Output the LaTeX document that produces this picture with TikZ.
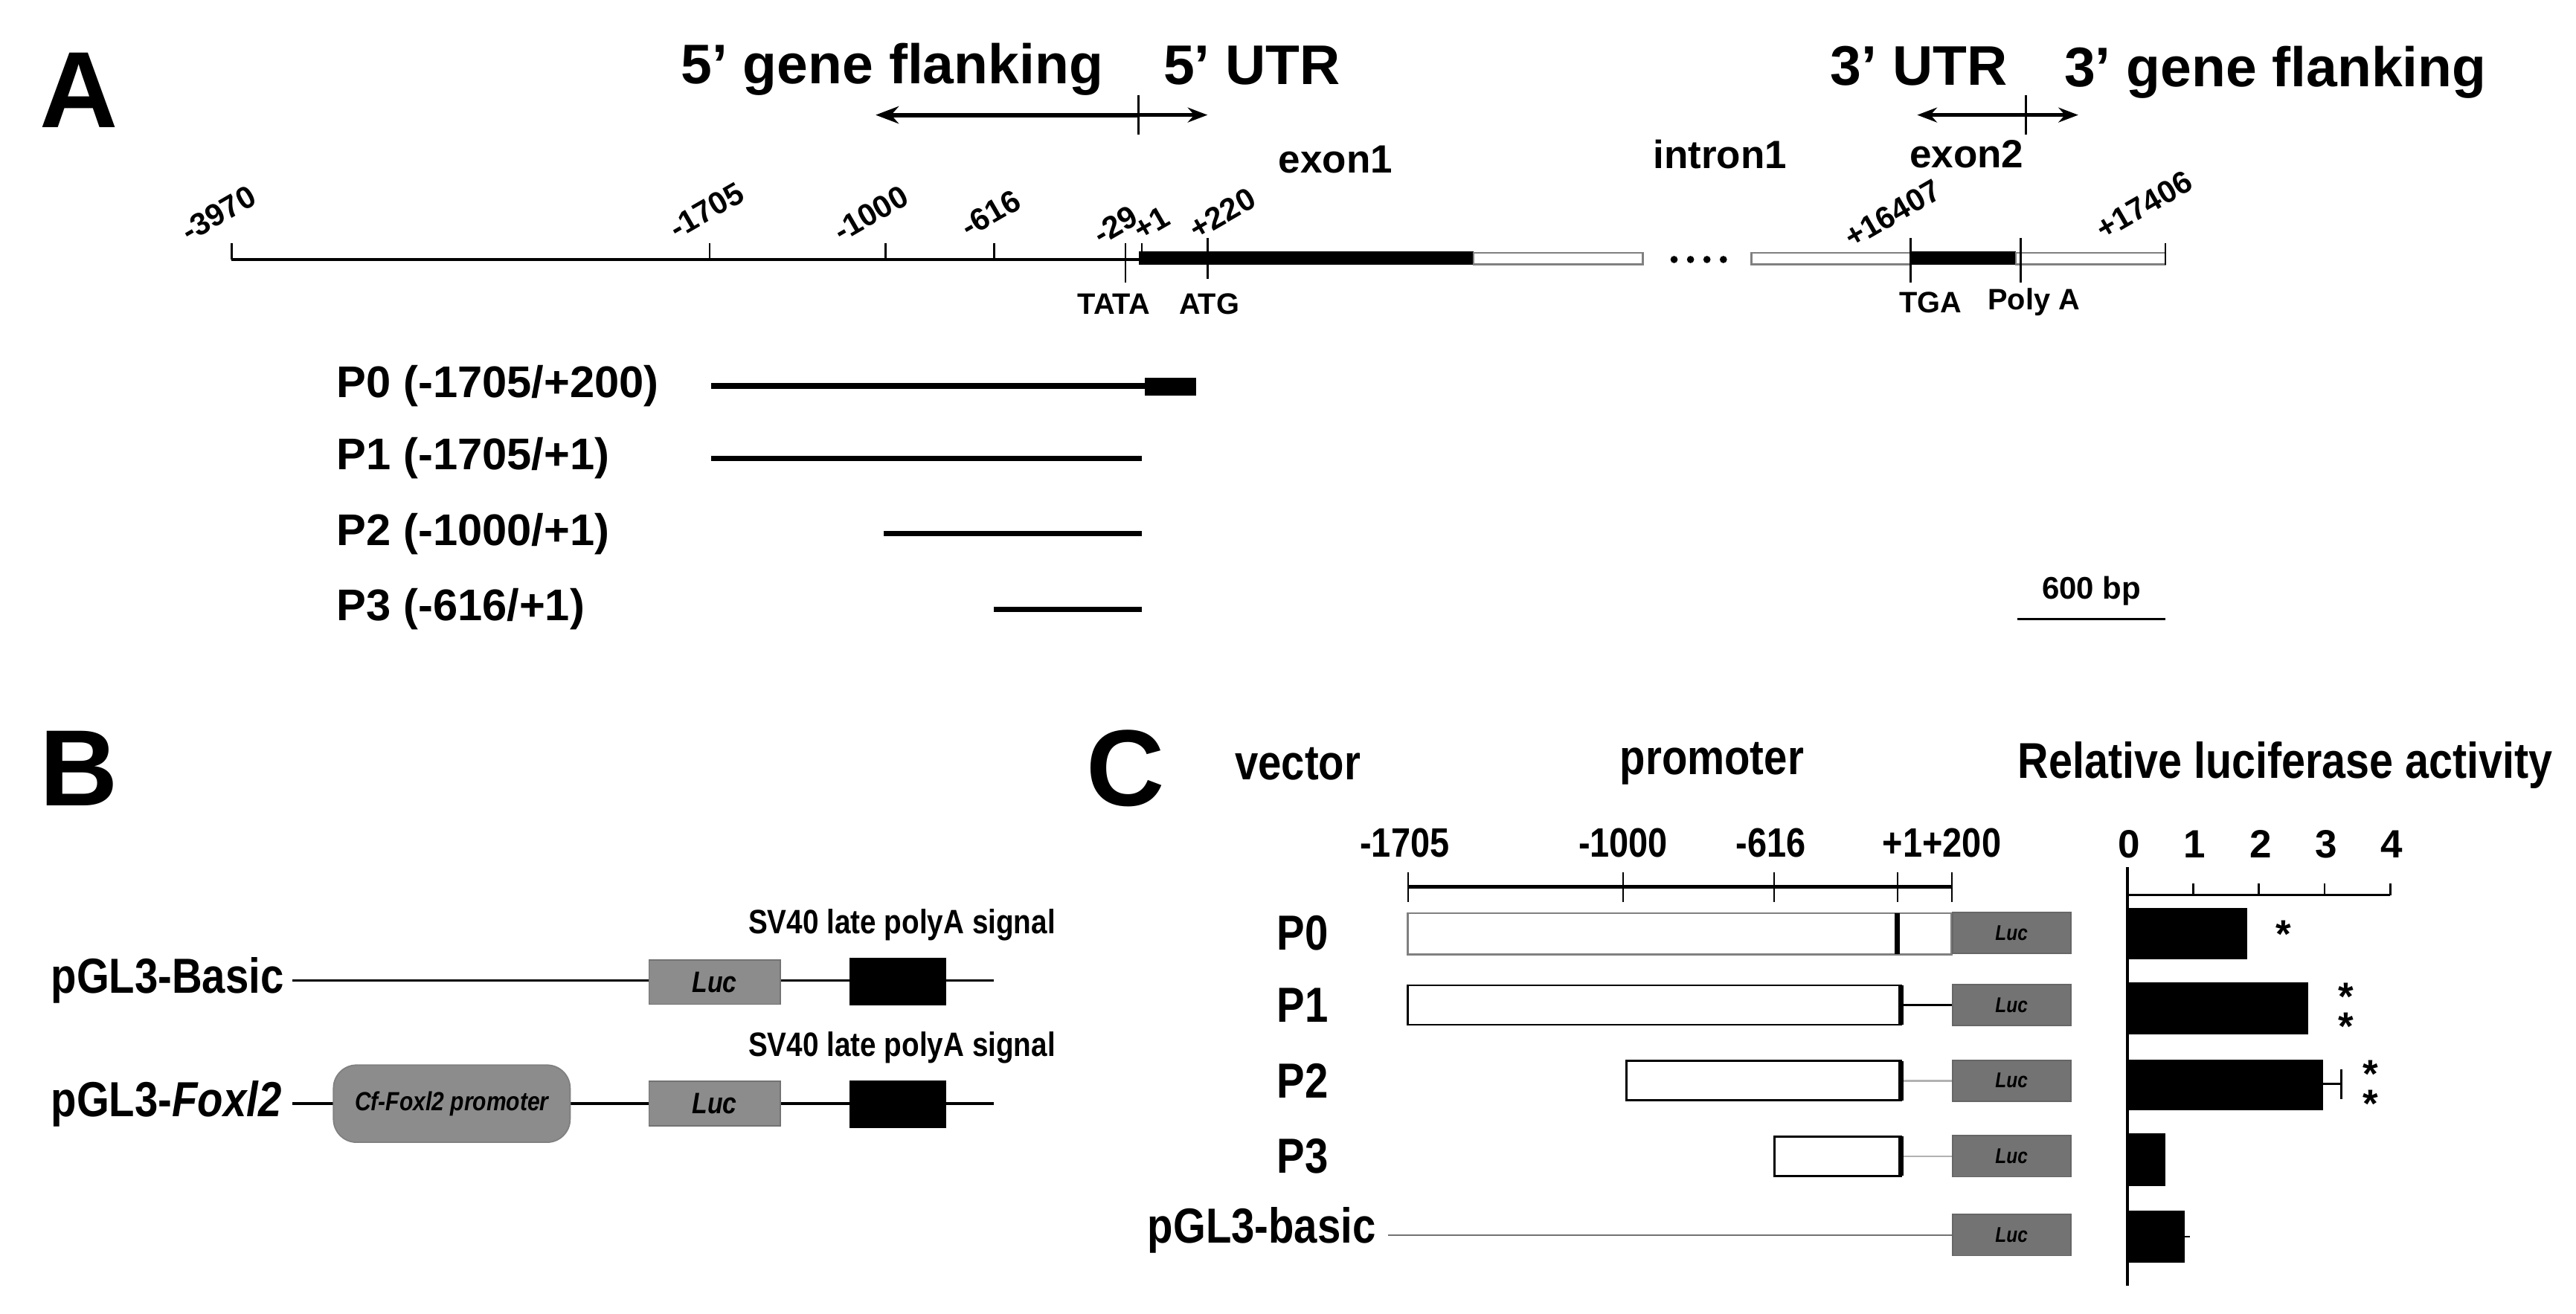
\documentclass[tikz,border=0pt]{standalone}
\usepackage{fontspec}
\setmainfont{Liberation Sans}
\newfontfamily\narrow[FakeStretch=0.85]{Liberation Sans}
\usetikzlibrary{arrows.meta}
\begin{document}
\begin{tikzpicture}[x=0.5pt,y=-0.5pt,
  big/.style={font=\fontsize{33}{33}\selectfont\bfseries},
  head/.style={font=\fontsize{17}{17}\selectfont\bfseries},
  mid/.style={font=\fontsize{12}{12}\selectfont\bfseries},
  plab/.style={font=\fontsize{13.5}{13.5}\selectfont\bfseries,anchor=west},
  tnum/.style={font=\fontsize{9.5}{9.5}\selectfont\bfseries,rotate=30},
  small/.style={font=\fontsize{9}{9}\selectfont\bfseries},
  nlab/.style={font=\narrow\fontsize{15}{15}\selectfont\bfseries},
  sv/.style={font=\narrow\fontsize{10.3}{10.3}\selectfont\bfseries},
  luc/.style={fill=black!45,draw=black!55,font=\narrow\fontsize{9}{9}\selectfont\bfseries\itshape},
  lucc/.style={fill=black!55,draw=black!60,font=\narrow\fontsize{6.5}{6.5}\selectfont\bfseries\itshape},
  dbl/.style={draw=black!50,fill=white,line width=0.6pt},
  pbox/.style={draw=black,fill=white,line width=0.6pt},
  axn/.style={font=\fontsize{12}{12}\selectfont\bfseries},
  star/.style={font=\fontsize{12}{12}\selectfont\bfseries}]
\useasboundingbox (0,0) rectangle (1568,800);
% ---------------- Panel A
\node[big] (A) at (48,55) {A};
\node[head] (h1) at (543,42) {5’ gene flanking};
\node[head] (h2) at (762,40) {5’ UTR};
\node[head] (h3) at (1168,40) {3’ UTR};
\node[head] (h4) at (1385,44) {3’ gene flanking};
\coordinate (a1) at (533,70); \coordinate (a2) at (693,70); \coordinate (a3) at (735,70);
\draw[line width=1.4pt,-{Stealth[length=7pt]}] (a2) -- (a1);
\draw[line width=1pt,-{Stealth[length=6pt]}] (a2) -- (a3);
\draw[line width=0.6pt] (693,58) -- (693,82);
\coordinate (b1) at (1167,70); \coordinate (b2) at (1233,70); \coordinate (b3) at (1265,70);
\draw[line width=1pt,-{Stealth[length=6pt]}] (b2) -- (b1);
\draw[line width=1pt,-{Stealth[length=6pt]}] (b2) -- (b3);
\draw[line width=0.6pt] (1233,58) -- (1233,82);
\node[mid] (e1) at (813,97) {exon1};
\node[mid] (i1) at (1047,94) {intron1};
\node[mid] (e2) at (1197,94) {exon2};
% gene line
\draw[line width=1pt] (141,158) -- (693,158);
\fill (693,153) rectangle (897,161);
\filldraw[dbl] (897,154) rectangle (1000,161);
\filldraw[dbl] (1066,154) rectangle (1163,161);
\fill (1163,153) rectangle (1227,161);
\filldraw[dbl] (1227,154) rectangle (1318,161);
\foreach \d in {1019,1029,1039,1049} \fill (\d,158) circle (2.2);
\draw[line width=0.6pt] (141,148)--(141,158) (432,148)--(432,158) (539,148)--(539,158)
  (605,148)--(605,158) (685,148)--(685,172) (695,148)--(695,158) (735,145)--(735,170)
  (1163,145)--(1163,172) (1230,145)--(1230,172) (1318,148)--(1318,161);
\node[tnum] (t1) at (133,130) {-3970};
\node[tnum] (t2) at (430,128) {-1705};
\node[tnum] (t3) at (530,130) {-1000};
\node[tnum] (t4) at (603,130) {-616};
\node[tnum] (t5) at (679,137) {-29};
\node[tnum] (t6) at (701,136) {+1};
\node[tnum] (t7) at (744,130) {+220};
\node[tnum] (t8) at (1152,130) {+16407};
\node[tnum] (t9) at (1305,125) {+17406};
\node[small] (s1) at (678,185) {TATA};
\node[small] (s2) at (736,185) {ATG};
\node[small] (s3) at (1175,184) {TGA};
\node[small] (s4) at (1238,184) {Poly A};
% constructs
\node[plab] (p0) at (198,235) {P0 (-1705/+200)};
\node[plab] (p1) at (198,279) {P1 (-1705/+1)};
\node[plab] (p2) at (198,325) {P2 (-1000/+1)};
\node[plab] (p3) at (198,371) {P3 (-616/+1)};
\draw[line width=1.6pt] (433,235) -- (697,235);
\fill (697,230) rectangle (728,241);
\draw[line width=1.6pt] (433,279) -- (695,279);
\draw[line width=1.6pt] (538,325) -- (695,325);
\draw[line width=1.6pt] (605,371) -- (695,371);
\node[small,font=\fontsize{9.5}{9.5}\selectfont\bfseries] (sc) at (1273,360) {600 bp};
\draw[line width=0.8pt] (1228,377) -- (1318,377);
% ---------------- Panel B
\node[big] (B) at (48,468) {B};
\node[nlab,anchor=west] (v1) at (24,597) {pGL3-Basic};
\draw[line width=0.8pt] (178,597) -- (605,597);
\node[luc,minimum width=40pt,minimum height=13.5pt] (l1) at (435,598) {Luc};
\fill (517,583) rectangle (576,612);
\node[sv] (sv1) at (549,563) {SV40 late polyA signal};
\node[nlab,anchor=west] (v2) at (24,672) {pGL3-\textit{Foxl2}};
\draw[line width=0.8pt] (178,672) -- (605,672);
\node[draw=black!50,fill=black!45,rounded corners=7pt,minimum width=72pt,minimum height=23.5pt,
  font=\narrow\fontsize{8}{8}\selectfont\bfseries\itshape] (pr) at (275,672) {Cf-Foxl2 promoter};
\node[luc,minimum width=40pt,minimum height=13.5pt] (l2) at (435,672) {Luc};
\fill (517,658) rectangle (576,687);
\node[sv] (sv2) at (549,638) {SV40 late polyA signal};
% ---------------- Panel C
\node[big] (C) at (685,468) {C};
\node[nlab] (cv) at (790,465) {vector};
\node[nlab] (cp) at (1042,465) {promoter};
\node[nlab,font=\narrow\fontsize{15.3}{15.3}\selectfont\bfseries] (cr) at (1391,466) {Relative luciferase activity};
\foreach \x/\t in {855/-1705,988/-1000,1078/-616,1182/+1+200}
  \node[nlab,font=\narrow\fontsize{12.5}{12.5}\selectfont\bfseries] at (\x,513) {\t};
\draw[line width=1.2pt] (857,540) -- (1188,540);
\foreach \x in {857,988,1080,1155,1188} \draw[line width=0.5pt] (\x,531) -- (\x,549);
% rows
\node[nlab] (r0) at (793,568) {P0};
\node[nlab] (r1) at (793,612) {P1};
\node[nlab] (r2) at (793,658) {P2};
\node[nlab] (r3) at (793,704) {P3};
\node[nlab] (r4) at (768,749) {pGL3-basic};
\filldraw[draw=black!50,fill=white,line width=0.6pt] (857,556) rectangle (1188,581);
\draw[line width=1.6pt] (1155,556) -- (1155,581);
\filldraw[pbox] (857,600) rectangle (1157,624);
\draw[line width=0.6pt] (1157,612) -- (1188,612);
\filldraw[pbox] (990,646) rectangle (1157,670);
\draw[line width=0.6pt,black!30] (1157,658) -- (1188,658);
\filldraw[pbox] (1080,692) rectangle (1157,716);
\draw[line width=0.6pt,black!30] (1157,704) -- (1188,704);
\draw[line width=1.6pt] (1157,600)--(1157,624) (1157,646)--(1157,670) (1157,692)--(1157,716);
\draw[line width=0.6pt,black!55] (845,752) -- (1188,752);
\foreach \y/\n in {568/c0,612/c1,658/c2,704/c3,752/c4}
  \node[lucc,minimum width=36pt,minimum height=12.5pt,inner sep=0pt,anchor=west] (\n) at (1188,\y) {Luc};
% bar chart
\draw[line width=1pt] (1295,528) -- (1295,783);
\draw[line width=0.8pt] (1295,545) -- (1455,545);
\foreach \i in {0,...,4} {
  \draw[line width=0.6pt] ({1295+40*\i},538) -- ({1295+40*\i},545);
  \node[axn] at ({1296+40*\i},514) {\i};}
\fill (1295,553) rectangle (1368,584);
\fill (1295,598) rectangle (1405,630);
\fill (1295,645) rectangle (1414,676);
\draw[line width=0.6pt] (1414,660) -- (1425,660) (1425,651) -- (1425,669);
\fill (1295,690) rectangle (1318,722);
\fill (1295,737) rectangle (1330,769);
\draw[line width=0.6pt] (1330,753) -- (1333,753);
\node[star] at (1390,569) {*};
\node[star] at (1428,607) {*};
\node[star] at (1428,625) {*};
\node[star] at (1443,654) {*};
\node[star] at (1443,672) {*};
\end{tikzpicture}
\end{document}
